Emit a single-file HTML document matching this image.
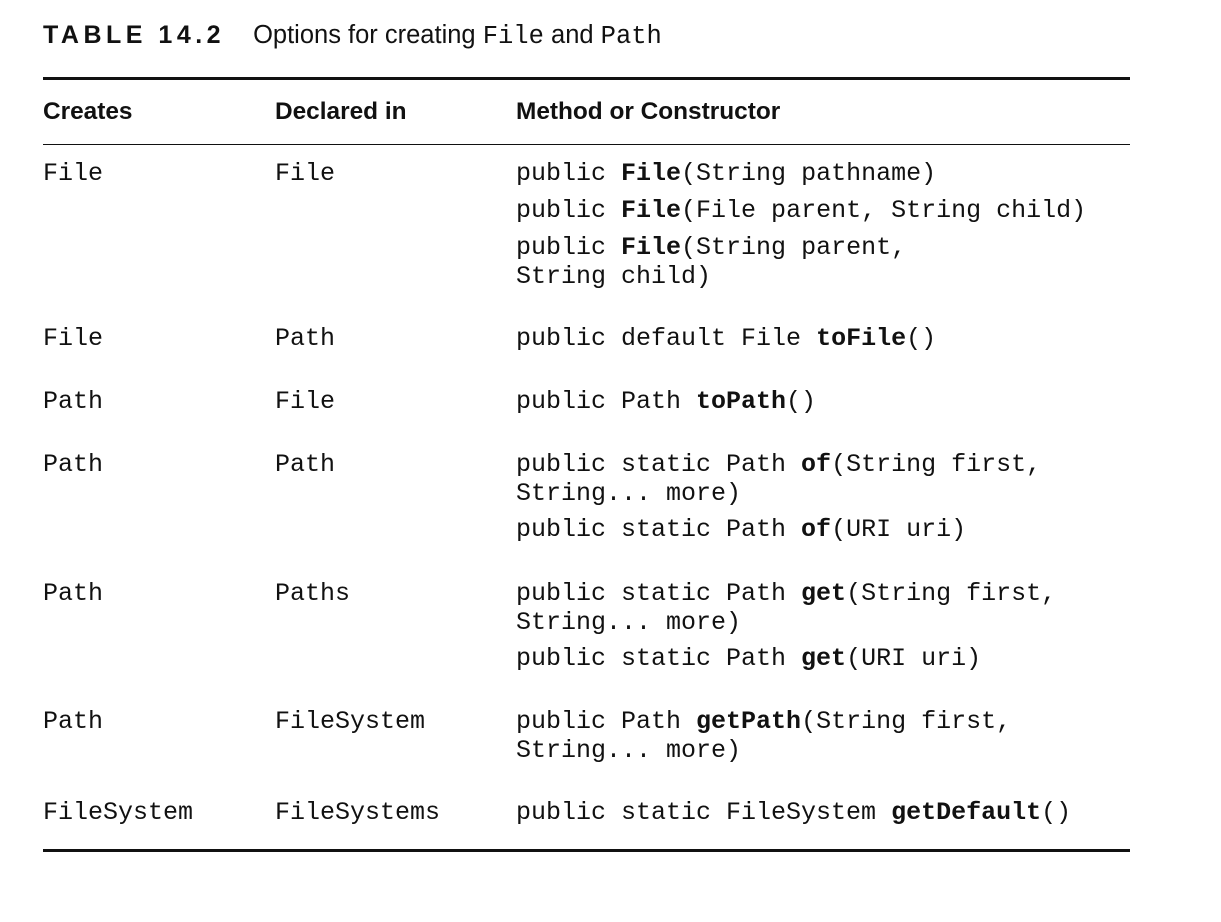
<!DOCTYPE html>
<html><head><meta charset="utf-8"><style>
body{margin:0;width:1221px;height:922px;background:#fff;position:relative;overflow:hidden;color:#111}
.a{position:absolute;white-space:pre;line-height:29px}
.m{font-family:"Liberation Mono",monospace;font-size:25px}
.h{font-family:"Liberation Sans Narrow","Liberation Sans",sans-serif;font-weight:bold;font-size:24.4px}
.r{position:absolute;left:43px;width:1087px;background:#111}
b{font-weight:bold}
</style></head><body>
<div class="a" style="left:43px;top:21px;font-family:'Liberation Sans',sans-serif;font-size:25px"><b style="letter-spacing:4.5px;font-size:25px">TABLE 14.2</b><span style="display:inline-block;width:28px"></span><span style="font-size:25.5px">Options for creating <span style="font-family:'Liberation Mono',monospace">File</span> and <span style="font-family:'Liberation Mono',monospace">Path</span></span></div>
<div class="r" style="top:77px;height:3px"></div>
<div class="a h" style="left:43px;top:97px">Creates</div>
<div class="a h" style="left:275px;top:97px">Declared in</div>
<div class="a h" style="left:516px;top:97px">Method or Constructor</div>
<div class="r" style="top:144px;height:1px"></div>

<div class="a m" style="left:43px;top:159px">File</div>
<div class="a m" style="left:275px;top:159px">File</div>
<div class="a m" style="left:516px;top:159px">public <b>File</b>(String pathname)</div>
<div class="a m" style="left:516px;top:196px">public <b>File</b>(File parent, String child)</div>
<div class="a m" style="left:516px;top:233px">public <b>File</b>(String parent,
String child)</div>

<div class="a m" style="left:43px;top:324px">File</div>
<div class="a m" style="left:275px;top:324px">Path</div>
<div class="a m" style="left:516px;top:324px">public default File <b>toFile</b>()</div>

<div class="a m" style="left:43px;top:387px">Path</div>
<div class="a m" style="left:275px;top:387px">File</div>
<div class="a m" style="left:516px;top:387px">public Path <b>toPath</b>()</div>

<div class="a m" style="left:43px;top:450px">Path</div>
<div class="a m" style="left:275px;top:450px">Path</div>
<div class="a m" style="left:516px;top:450px">public static Path <b>of</b>(String first,
String... more)</div>
<div class="a m" style="left:516px;top:515px">public static Path <b>of</b>(URI uri)</div>

<div class="a m" style="left:43px;top:579px">Path</div>
<div class="a m" style="left:275px;top:579px">Paths</div>
<div class="a m" style="left:516px;top:579px">public static Path <b>get</b>(String first,
String... more)</div>
<div class="a m" style="left:516px;top:644px">public static Path <b>get</b>(URI uri)</div>

<div class="a m" style="left:43px;top:707px">Path</div>
<div class="a m" style="left:275px;top:707px">FileSystem</div>
<div class="a m" style="left:516px;top:707px">public Path <b>getPath</b>(String first,
String... more)</div>

<div class="a m" style="left:43px;top:798px">FileSystem</div>
<div class="a m" style="left:275px;top:798px">FileSystems</div>
<div class="a m" style="left:516px;top:798px">public static FileSystem <b>getDefault</b>()</div>

<div class="r" style="top:849px;height:3px"></div>
</body></html>
